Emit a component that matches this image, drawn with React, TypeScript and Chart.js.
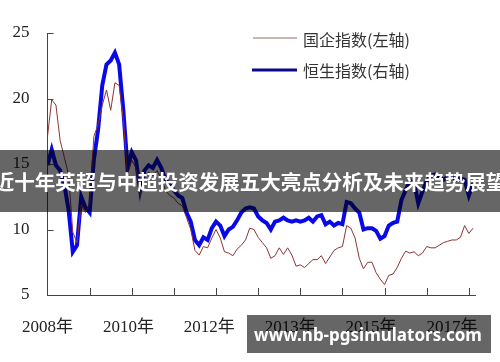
import React, { useEffect, useRef } from "react";
import { Chart, registerables } from "chart.js";

Chart.register(...registerables);

// x positions, in axis-interval units (one unit = one tick interval on the date axis)
const periods: number[] = Array.from({ length: 102 }, (_, i) => i / 10);

// 国企指数 (left axis)
const soeIndex: number[] = [
  17.1, 19.9, 19.5, 16.8, 15.5, 14.2, 9.8, 9.0, 11.9, 11.3,
  11.9, 17.1, 18.0, 19.5, 20.65, 19.1, 21.2, 21.0, 18.4, 14.2,
  15.3, 14.7, 12.6, 13.9, 14.4, 14.1, 14.5, 13.9, 13.0, 12.6,
  12.4, 12.0, 11.8, 10.9, 10.0, 8.4, 8.05, 8.7, 8.6, 9.35,
  10.0, 9.35, 8.3, 8.2, 8.0, 8.5, 8.8, 9.2, 10.1, 10.0,
  9.4, 9.0, 8.6, 7.8, 8.0, 8.6, 8.1, 8.6, 8.05, 7.2,
  7.3, 7.1, 7.4, 7.7, 7.7, 8.0, 7.4, 7.9, 8.4, 8.6,
  8.7, 10.3, 10.1, 9.35, 7.8, 7.0, 7.5, 7.5, 6.7, 6.2,
  5.8, 6.5, 6.6, 7.1, 7.8, 8.35, 8.2, 8.3, 8.0, 8.2,
  8.7, 8.6, 8.6, 8.8, 9.0, 9.1, 9.2, 9.2, 9.4, 10.3,
  9.7, 10.1,
];

// 恒生指数 (right axis, shown in left-axis units)
const hangSeng: number[] = [
  14.9, 16.1, 14.9, 14.5, 13.4, 11.5, 8.3, 8.8, 12.5, 11.7,
  11.3, 15.3, 17.6, 21.0, 22.6, 22.9, 23.5, 22.6, 19.1, 14.7,
  15.9, 15.3, 13.0, 14.5, 14.9, 14.7, 15.3, 14.7, 13.8, 13.4,
  13.0, 12.6, 12.4, 11.3, 10.6, 9.2, 8.8, 9.4, 9.2, 10.1,
  10.6, 10.3, 9.5, 10.0, 10.2, 10.7, 11.3, 11.6, 11.7, 11.6,
  11.0, 10.7, 10.5, 10.0, 10.6, 10.7, 10.9, 10.7, 10.6, 10.7,
  10.6, 10.7, 10.9, 10.6, 11.0, 11.1, 10.4, 10.6, 10.3, 10.5,
  10.4, 12.1, 12.0, 11.6, 11.3, 10.0, 10.1, 10.1, 9.9, 9.3,
  9.5, 10.3, 10.5, 10.6, 12.25, 13.0, 13.7, 13.6, 12.0, 12.9,
  13.7, 14.1, 14.2, 14.0, 13.8, 14.0, 14.0, 13.8, 13.9, 13.8,
  12.6, 13.5,
];

const yTickValues: number[] = [5, 10, 15, 20, 25];
const xTickLabels: string[] = ["2008年", "2010年", "2012年", "2013年", "2015年", "2017年"];
const seriesNames: string[] = ["国企指数(左轴)", "恒生指数(右轴)"];
const bannerText = "近十年英超与中超投资发展五大亮点分析及未来趋势展望";
const watermarkText = "www.nb-pgsimulators.com";

const X_MAX = 10.16;
const LABEL_STEP = 1.92;
const AXIS_TICK_COUNT = 10;

const overlayPlugin = {
  id: "overlayPlugin",
  afterDraw(chart: any) {
    const { ctx, scales } = chart;
    const xs = scales.x;
    const ys = scales.y;
    const bottom = ys.bottom;
    const left = xs.left;
    ctx.save();
    // inward tick marks
    ctx.strokeStyle = "#444";
    ctx.lineWidth = 1;
    ctx.beginPath();
    for (let k = 1; k <= AXIS_TICK_COUNT; k++) {
      const px = Math.round(xs.getPixelForValue(k)) + 0.5;
      ctx.moveTo(px, bottom);
      ctx.lineTo(px, bottom - 7);
    }
    for (const v of yTickValues) {
      const py = Math.round(ys.getPixelForValue(v)) + 0.5;
      ctx.moveTo(left, py);
      ctx.lineTo(left + 6, py);
    }
    ctx.stroke();

    // legend
    ctx.font = '16px "Noto Sans CJK SC"';
    ctx.fillStyle = "#333";
    ctx.textBaseline = "middle";
    ctx.textAlign = "left";
    ctx.strokeStyle = "#b89c9a";
    ctx.lineWidth = 1.5;
    ctx.beginPath();
    ctx.moveTo(253, 38);
    ctx.lineTo(297, 38);
    ctx.stroke();
    ctx.fillText(seriesNames[0], 303, 40);
    ctx.strokeStyle = "#0a0a8a";
    ctx.lineWidth = 3;
    ctx.beginPath();
    ctx.moveTo(252, 70);
    ctx.lineTo(297, 70);
    ctx.stroke();
    ctx.fillText(seriesNames[1], 303, 71);

    // banner overlay
    ctx.fillStyle = "rgba(0,0,0,0.6)";
    ctx.fillRect(0, 150, 500, 62);
    ctx.fillStyle = "#fff";
    ctx.font = 'bold 20.5px "Noto Sans CJK SC"';
    ctx.textAlign = "center";
    ctx.fillText(bannerText, 250, 182);

    // watermark
    ctx.fillStyle = "rgba(0,0,0,0.6)";
    ctx.fillRect(247, 315, 244, 38);
    ctx.fillStyle = "#fff";
    ctx.font = 'bold 17px "Noto Sans"';
    ctx.fillText(watermarkText, 368, 336);
    ctx.restore();
  },
};

export default function App() {
  const canvasRef = useRef<HTMLCanvasElement | null>(null);

  useEffect(() => {
    document.body.style.margin = "0";
    const canvas = canvasRef.current;
    if (!canvas) return;
    const chart = new Chart(canvas, {
      type: "line",
      data: {
        datasets: [
          {
            label: seriesNames[0],
            data: periods.map((x, i) => ({ x, y: soeIndex[i] })),
            borderColor: "#8e3434",
            borderWidth: 1,
            pointRadius: 0,
            tension: 0,
            order: 0,
          },
          {
            label: seriesNames[1],
            data: periods.map((x, i) => ({ x, y: hangSeng[i] })),
            borderColor: "#0808e8",
            borderWidth: 4,
            pointRadius: 0,
            tension: 0,
            order: 1,
          },
        ],
      },
      options: {
        animation: false,
        responsive: false,
        devicePixelRatio: 1,
        layout: { padding: { top: 33, right: 10, left: 0, bottom: 0 } },
        plugins: {
          legend: { display: false },
          tooltip: { enabled: false },
        },
        scales: {
          x: {
            type: "linear",
            min: 0,
            max: X_MAX,
            afterBuildTicks(scale: any) {
              scale.ticks = xTickLabels.map((_, i) => ({ value: i * LABEL_STEP }));
            },
            ticks: {
              autoSkip: false,
              maxRotation: 0,
              padding: 22,
              color: "#222",
              font: { family: '"Liberation Serif", "Noto Sans CJK SC"', size: 17 },
              callback: (_v: any, i: number) => xTickLabels[i],
            },
            grid: { drawOnChartArea: false, drawTicks: false },
            border: { display: true, color: "#444", width: 1 },
            afterFit(scale: any) {
              scale.height = 67;
            },
          },
          y: {
            min: 5,
            max: 25,
            afterBuildTicks(scale: any) {
              scale.ticks = yTickValues.map((v) => ({ value: v }));
            },
            ticks: {
              padding: 18,
              color: "#222",
              font: { family: '"Liberation Serif"', size: 17 },
            },
            grid: { drawOnChartArea: false, drawTicks: false },
            border: { display: true, color: "#444", width: 1 },
            afterFit(scale: any) {
              scale.width = 47;
            },
          },
        },
      },
      plugins: [overlayPlugin],
    });
    return () => chart.destroy();
  }, []);

  return (
    <div style={{ position: "absolute", left: 0, top: 0, width: 500, height: 362, background: "#fff" }}>
      <canvas ref={canvasRef} width={500} height={362} />
    </div>
  );
}
